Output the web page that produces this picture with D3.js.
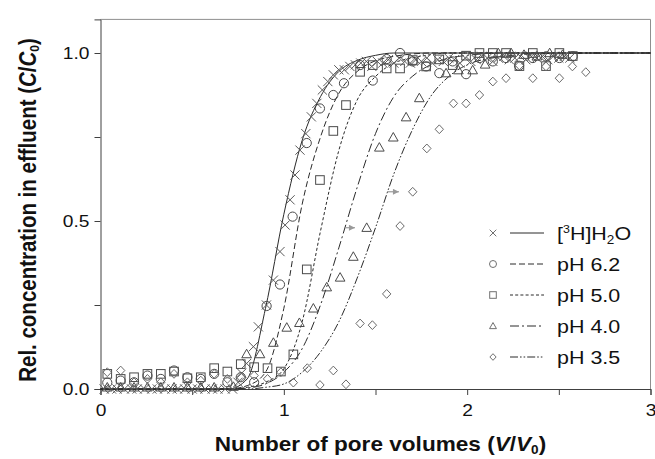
<!DOCTYPE html>
<html>
<head>
<meta charset="utf-8">
<script src="https://cdn.jsdelivr.net/npm/d3@7"></script>
<style>
  body { margin: 0; background: #fff; }
  svg { display: block; font-family: "Liberation Sans", Arial, sans-serif; }
</style>
</head>
<body>
<svg id="chart" width="655" height="459"></svg>
<script>
// ---- data ----
// [3H]H2O (crosses)
const h2oX = [0.02, 0.06, 0.09, 0.13, 0.17, 0.20, 0.24, 0.28, 0.31, 0.35, 0.39, 0.42, 0.46, 0.50, 0.53, 0.57, 0.61, 0.64, 0.68, 0.72,
  0.75, 0.77, 0.797, 0.834, 0.861, 0.905, 0.943, 0.979, 1.007, 1.034, 1.061, 1.088, 1.12, 1.15, 1.18, 1.21, 1.24, 1.27, 1.30, 1.33,
  1.36, 1.39, 1.42, 1.45, 1.48, 1.51, 1.54, 1.57, 1.60, 1.63, 1.66, 1.69, 1.72, 1.75, 1.78, 1.81, 1.84, 1.87, 1.90, 1.93,
  1.96, 1.99, 2.02, 2.05, 2.08, 2.11, 2.14, 2.17, 2.20, 2.23, 2.26, 2.29, 2.32, 2.35, 2.38, 2.41, 2.44, 2.47, 2.50, 2.53, 2.56]
const h2oY = [0, 0, 0, 0, 0, 0, 0, 0, 0, 0, 0, 0, 0, 0, 0, 0, 0, 0, 0, 0,
  0.02, 0.047, 0.076, 0.126, 0.185, 0.25, 0.324, 0.409, 0.488, 0.563, 0.637, 0.711, 0.76, 0.81, 0.85, 0.89, 0.915, 0.935, 0.95, 0.95,
  0.96, 0.965, 0.97, 0.975, 0.96, 0.975, 0.97, 0.98, 0.97, 0.985, 0.975, 0.97, 0.98, 0.975, 0.985, 0.97, 0.98, 0.975, 0.985, 0.98,
  0.97, 0.985, 0.975, 0.98, 0.99, 0.985, 0.975, 0.985, 0.99, 0.98, 0.985, 0.99, 0.98, 0.99, 0.985, 0.99, 0.98, 0.99, 0.985, 0.99, 0.985]

// pH 6.2 (circles)
const ph62X = [0.037, 0.11, 0.183, 0.256, 0.329, 0.401, 0.474, 0.547, 0.62, 0.692, 0.765, 0.838, 0.906, 0.979, 1.048, 1.125, 1.197, 1.27,
  1.328, 1.416, 1.485, 1.561, 1.634, 1.703, 1.776, 1.848, 1.921, 1.994, 2.067, 2.14, 2.212, 2.283, 2.358, 2.43, 2.503, 2.576]
const ph62Y = [0.019, 0.025, 0.02, 0.04, 0.03, 0.055, 0.035, 0.03, 0.045, 0.02, 0.035, 0.02, 0.247, 0.311, 0.513, 0.732, 0.835, 0.875,
  0.91, 0.964, 0.918, 0.982, 1.0, 0.975, 0.96, 0.94, 0.975, 0.937, 0.985, 0.975, 0.985, 0.962, 0.985, 0.99, 0.985, 0.99]

// pH 5.0 (squares)
const ph50X = [0.037, 0.11, 0.183, 0.256, 0.329, 0.401, 0.474, 0.547, 0.62, 0.692, 0.765, 0.838, 0.911, 0.984, 1.052, 1.125, 1.197, 1.27,
  1.339, 1.416, 1.485, 1.561, 1.634, 1.703, 1.776, 1.848, 1.921, 1.994, 2.067, 2.14, 2.212, 2.285, 2.358, 2.43, 2.503, 2.576]
const ph50Y = [0.045, 0.03, 0.035, 0.045, 0.045, 0.052, 0.032, 0.035, 0.062, 0.052, 0.074, 0.065, 0.062, 0.052, 0.103, 0.356, 0.622, 0.768,
  0.845, 0.944, 0.964, 0.954, 0.954, 0.979, 0.96, 0.981, 0.964, 0.992, 1.0, 1.0, 1.0, 0.961, 1.0, 0.961, 1.0, 0.991]

// pH 4.0 (triangles)
const ph40X = [0.037, 0.11, 0.183, 0.256, 0.329, 0.401, 0.474, 0.547, 0.62, 0.725, 0.797, 0.870, 0.943, 1.016, 1.085, 1.161, 1.234, 1.307,
  1.379, 1.452, 1.521, 1.597, 1.667, 1.739, 1.885, 1.952, 2.03, 2.098, 2.17, 2.24, 2.31, 2.38, 2.45, 2.52]
const ph40Y = [0.005, 0.005, 0.005, 0.005, 0.005, 0.005, 0.005, 0.005, 0.005, 0.007, 0.104, 0.104, 0.138, 0.183, 0.197, 0.24, 0.303, 0.332,
  0.394, 0.48, 0.719, 0.749, 0.809, 0.866, 0.94, 0.949, 0.949, 0.966, 1.0, 1.0, 0.995, 0.99, 1.0, 0.995]

// pH 3.5 (diamonds)
const ph35X = [0.037, 0.11, 0.183, 0.256, 0.329, 0.401, 0.474, 0.547, 0.62, 0.692, 0.765, 0.838, 0.911, 0.984, 1.052, 1.128, 1.197, 1.27,
  1.339, 1.416, 1.483, 1.561, 1.634, 1.703, 1.78, 1.848, 1.925, 1.994, 2.067, 2.14, 2.212, 2.285, 2.358, 2.43, 2.503, 2.574, 2.647]
const ph35Y = [0.05, 0.055, 0.02, 0.03, 0.02, 0.045, 0.02, 0.025, 0.045, 0.03, 0.035, 0.04, 0.03, 0.05, 0.019, 0.062, 0.012, 0.055,
  0.014, 0.195, 0.19, 0.283, 0.485, 0.587, 0.716, 0.773, 0.85, 0.85, 0.875, 0.915, 0.925, 0.963, 0.925, 0.96, 0.925, 0.96, 0.943]

// fitted curves, read at these pore volumes
const fitX    = [0, 0.7, 0.8, 0.9, 1.0, 1.1, 1.2, 1.3, 1.4, 1.5, 1.6, 1.7, 1.8, 1.9, 2.0, 2.2, 2.4, 2.7, 3.0]
const fitH2o  = [0, 0, 0.03, 0.24, 0.52, 0.74, 0.87, 0.945, 0.978, 0.993, 1, 1, 1, 1, 1, 1, 1, 1, 1]
const fit62   = [0, 0, 0.01, 0.05, 0.24, 0.55, 0.75, 0.88, 0.945, 0.977, 0.99, 0.997, 1, 1, 1, 1, 1, 1, 1]
const fit50   = [0, 0, 0.005, 0.02, 0.06, 0.2, 0.47, 0.71, 0.86, 0.93, 0.97, 0.985, 0.995, 1, 1, 1, 1, 1, 1]
const fit40   = [0, 0, 0.003, 0.015, 0.05, 0.12, 0.25, 0.42, 0.6, 0.76, 0.87, 0.93, 0.965, 0.985, 0.993, 1, 1, 1, 1]
const fit35   = [0, 0, 0, 0.005, 0.015, 0.05, 0.11, 0.2, 0.33, 0.48, 0.64, 0.77, 0.87, 0.93, 0.965, 0.99, 0.998, 1, 1]

const labels = ["[3H]H2O", "pH 6.2", "pH 5.0", "pH 4.0", "pH 3.5"]
const xTicks = [0, 0.5, 1, 1.5, 2, 2.5, 3]
const yTicks = [0, 0.25, 0.5, 0.75, 1.0]

// arrows (start on fitted line, end at marked point)
const arrowStart = [1.334, 1.563]
const arrowEnd   = [1.415, 1.655]
const arrowY     = [0.48, 0.587]

// ---- chart ----
var margin = {top: 19.4, right: 4.5, bottom: 70, left: 100.5},
    width = 655 - margin.left - margin.right,
    height = 459 - margin.top - margin.bottom

const svg = d3.select("#chart")
const chart = svg.append("g")
    .attr("transform", "translate(" + margin.left + "," + margin.top + ")")

const x = d3.scaleLinear().domain([0, 3]).range([0, width])
const y = d3.scaleLinear().domain([0, 1.1]).range([height, 0])

const stretch = 1.13  // text in the figure is slightly wide

// frame (top / right lighter)
chart.append("line").attr("x1", 0).attr("x2", width).attr("y1", 0).attr("y2", 0)
    .attr("stroke", "#8f8f8f")
chart.append("line").attr("x1", width).attr("x2", width).attr("y1", 0).attr("y2", height)
    .attr("stroke", "#8f8f8f")

/*y axis*/
const yAxis = chart.append("g")
    .call(d3.axisLeft(y).tickValues(yTicks).tickSize(6).tickPadding(5)
        .tickFormat(d => (d * 2) % 1 === 0 ? d.toFixed(1) : ""))
/*x axis*/
const xAxis = chart.append("g")
    .attr("transform", `translate(0, ${height})`)
    .call(d3.axisBottom(x).tickValues(xTicks).tickSize(6).tickPadding(9)
        .tickFormat(d => d % 1 === 0 ? d : ""))

chart.selectAll(".domain").attr("stroke", "#404040")
chart.selectAll(".tick line").attr("stroke", "#404040")
chart.selectAll(".tick text")
    .attr("font-size", 17)
    .attr("fill", "#111")
    .attr("font-family", "Liberation Sans, Arial, sans-serif")
yAxis.selectAll(".tick text").attr("transform", `scale(${stretch},1)`).attr("x", -11 / stretch)
xAxis.selectAll(".tick text").attr("transform", `scale(${stretch},1)`)

// fitted lines
const styles = ["none", "6,3", "3,2.2", "9,3,2,3", "8,2,1.6,2,1.6,2"]
const fits = [fitH2o, fit62, fit50, fit40, fit35]
const line = d3.line()
    .x(d => x(d[0]))
    .y(d => y(d[1]))
    .curve(d3.curveMonotoneX)

fits.forEach(function (f, i) {
    chart.append("path")
        .datum(fitX.map((v, k) => [v, f[k]]))
        .attr("fill", "none")
        .attr("stroke", "#2a2a2a")
        .attr("stroke-width", 1)
        .attr("stroke-dasharray", styles[i])
        .attr("d", line)
})

// markers
function marker(g, type, s) {
    if (type === "circle") {
        g.append("circle").attr("r", s)
    } else if (type === "square") {
        g.append("rect").attr("x", -s).attr("y", -s).attr("width", 2 * s).attr("height", 2 * s)
    } else if (type === "triangle") {
        g.append("path").attr("d", `M0,${-s * 1.05}L${s * 1.05},${s * 0.8}L${-s * 1.05},${s * 0.8}Z`)
    } else if (type === "diamond") {
        g.append("path").attr("d", `M0,${-s}L${s * 0.95},0L0,${s}L${-s * 0.95},0Z`)
    } else {
        g.append("path").attr("d", `M${-s},${-s}L${s},${s}M${-s},${s}L${s},${-s}`)
    }
}

const series = [
    {xs: h2oX, ys: h2oY, type: "times", size: 4.6, color: "#5a5a5a"},
    {xs: ph62X, ys: ph62Y, type: "circle", size: 4.6, color: "#4a4a4a"},
    {xs: ph50X, ys: ph50Y, type: "square", size: 4.3, color: "#4a4a4a"},
    {xs: ph40X, ys: ph40Y, type: "triangle", size: 4.6, color: "#4a4a4a"},
    {xs: ph35X, ys: ph35Y, type: "diamond", size: 4.4, color: "#6a6a6a"}
]

series.forEach(function (s) {
    chart.selectAll("mypoints")
        .data(s.xs.map((v, k) => [v, s.ys[k]]))
        .enter()
        .append("g")
        .attr("transform", d => `translate(${x(d[0])},${y(d[1])})`)
        .attr("fill", "none")
        .attr("stroke", s.color)
        .attr("stroke-width", 1)
        .each(function () { marker(d3.select(this), s.type, s.size) })
})

// arrows
const defs = svg.append("defs")
defs.append("marker")
    .attr("id", "head")
    .attr("viewBox", "0 0 10 10")
    .attr("refX", 10).attr("refY", 5)
    .attr("markerWidth", 7).attr("markerHeight", 6)
    .attr("orient", "auto")
    .attr("markerUnits", "userSpaceOnUse")
    .append("path").attr("d", "M0,0L10,5L0,10Z").attr("fill", "#9a9a9a")

arrowStart.forEach(function (a, i) {
    chart.append("line")
        .attr("x1", x(a)).attr("x2", x(arrowEnd[i]) - 5)
        .attr("y1", y(arrowY[i])).attr("y2", y(arrowY[i]))
        .attr("stroke", "#9a9a9a").attr("stroke-width", 1.2)
        .attr("marker-end", "url(#head)")
})

// legend
const legend = svg.append("g")
series.forEach(function (s, i) {
    const row = legend.append("g").attr("transform", `translate(0, ${233 + i * 31})`)
    const m = row.append("g").attr("transform", "translate(493,0)")
        .attr("fill", "none").attr("stroke", "#707070").attr("stroke-width", 1)
    marker(m, s.type, s.type === "circle" ? 3.5 : 3.3)
    row.append("line")
        .attr("x1", 510).attr("x2", 544).attr("y1", 0).attr("y2", 0)
        .attr("stroke", "#2a2a2a").attr("stroke-width", 1)
        .attr("stroke-dasharray", styles[i])
    const t = row.append("text")
        .attr("transform", `translate(557,7) scale(${stretch},1)`)
        .attr("font-size", 19)
        .attr("fill", "#111")
    if (i === 0) {
        t.append("tspan").text("[")
        t.append("tspan").attr("font-size", 11).attr("dy", -7).text("3")
        t.append("tspan").attr("dy", 7).text("H]H")
        t.append("tspan").attr("font-size", 12).attr("dy", 4).text("2")
        t.append("tspan").attr("dy", -4).text("O")
    } else {
        t.text(labels[i])
    }
})

// axis titles
const xt = svg.append("text")
    .attr("transform", `translate(${margin.left + width / 2 + 5},451) scale(${stretch},1)`)
    .attr("text-anchor", "middle")
    .attr("font-size", 20)
    .attr("font-weight", "bold")
    .attr("fill", "#111")
xt.append("tspan").text("Number of pore volumes (")
xt.append("tspan").attr("font-style", "italic").text("V")
xt.append("tspan").text("/")
xt.append("tspan").attr("font-style", "italic").text("V")
xt.append("tspan").attr("font-size", 12).attr("dy", 3).text("0")
xt.append("tspan").attr("dy", -3).text(")")

const yt = svg.append("text")
    .attr("transform", `translate(36,210) scale(${stretch},1) rotate(-90)`)
    .attr("text-anchor", "middle")
    .attr("font-size", 20.5)
    .attr("font-weight", "bold")
    .attr("fill", "#111")
yt.append("tspan").text("Rel. concentration in effluent (")
yt.append("tspan").attr("font-style", "italic").text("C")
yt.append("tspan").text("/")
yt.append("tspan").attr("font-style", "italic").text("C")
yt.append("tspan").attr("font-size", 12).attr("dy", 3).text("0")
yt.append("tspan").attr("dy", -3).text(")")
</script>
</body>
</html>
